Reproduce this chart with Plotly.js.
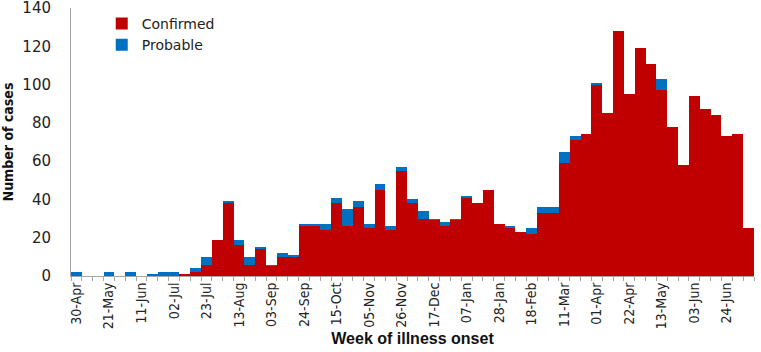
<!DOCTYPE html>
<html>
<head>
<meta charset="utf-8">
<script src="https://cdn.plot.ly/plotly-3.0.1.min.js"></script>
<style>
  html, body { margin: 0; padding: 0; background: #fff; }
  #chart { width: 761px; height: 352px; }
</style>
</head>
<body>
<div id="chart"></div>
<script>
const weeks = [
  "30-Apr","07-May","14-May","21-May","28-May","04-Jun","11-Jun","18-Jun","25-Jun",
  "02-Jul","09-Jul","16-Jul","23-Jul","30-Jul","06-Aug","13-Aug","20-Aug","27-Aug",
  "03-Sep","10-Sep","17-Sep","24-Sep","01-Oct","08-Oct","15-Oct","22-Oct","29-Oct",
  "05-Nov","12-Nov","19-Nov","26-Nov","03-Dec","10-Dec","17-Dec","24-Dec","31-Dec",
  "07-Jan","14-Jan","21-Jan","28-Jan","04-Feb","11-Feb","18-Feb","25-Feb","04-Mar",
  "11-Mar","18-Mar","25-Mar","01-Apr","08-Apr","15-Apr","22-Apr","29-Apr","06-May",
  "13-May","20-May","27-May","03-Jun","10-Jun","17-Jun","24-Jun","01-Jul","08-Jul"
];
const confirmed = [
  0,0,0,0,0,0,0,0,0,
  0,1,2,6,19,38,16,6,14,
  5,10,10,26,26,24,38,26,36,
  25,45,24,55,38,30,29,26,29,
  41,38,45,27,25,23,22,33,33,
  59,71,74,100,85,128,95,119,111,
  97,78,58,94,87,84,73,74,25
];
const probable = [
  2,0,0,2,0,2,0,1,2,
  2,0,2,4,0,1,3,4,1,
  1,2,1,1,1,3,3,9,3,
  2,3,2,2,2,4,1,2,1,
  1,0,0,0,1,0,3,3,3,
  6,2,0,1,0,0,0,0,0,
  6,0,0,0,0,0,0,0,0
];
const shownLabels = ["30-Apr","21-May","11-Jun","02-Jul","23-Jul","13-Aug","03-Sep","24-Sep",
  "15-Oct","05-Nov","26-Nov","17-Dec","07-Jan","28-Jan","18-Feb","11-Mar","01-Apr",
  "22-Apr","13-May","03-Jun","24-Jun"];
const yTicks = [0,20,40,60,80,100,120,140];

const RED = "#C00000", BLUE = "#0070C0";
const narrow = "'Liberation Sans Narrow', 'DejaVu Sans Condensed', 'Arial Narrow', sans-serif";

const traces = [
  {type:"bar", name:"Confirmed", x:weeks, y:confirmed,
   marker:{color:RED, line:{width:0}}},
  {type:"bar", name:"Probable", x:weeks, y:probable,
   marker:{color:BLUE, line:{width:0}}}
];

const layout = {
  width:761, height:352,
  margin:{l:71, r:7, t:8, b:76},
  barmode:"stack", bargap:0,
  paper_bgcolor:"#fff", plot_bgcolor:"#fff",
  showlegend:true,
  legend:{x:0.045, y:1.0, xanchor:"left", yanchor:"top", traceorder:"normal",
          bgcolor:"rgba(0,0,0,0)", font:{family:"'DejaVu Sans', sans-serif", size:14, color:"#222"},
          tracegroupgap:0},
  xaxis:{
    type:"category",
    automargin:false,
    tickmode:"array",
    tickvals:weeks,
    ticktext:weeks.map(w => shownLabels.includes(w) ? w : ""),
    tickson:"boundaries",
    ticks:"outside", ticklen:4, tickcolor:"#a6a6a6", tickwidth:1,
    tickangle:-90,
    tickfont:{family:narrow, size:14, color:"#222"},
    showline:true, linecolor:"#a6a6a6", linewidth:1,
    showgrid:false, zeroline:false,
    title:{text:"Week of illness onset", standoff:4,
           font:{family:"'Liberation Sans', Arial, sans-serif", size:16, color:"#111", weight:"bold"}}
  },
  yaxis:{
    automargin:false,
    ticklabeloverflow:"allow",
    range:[0,140], tickmode:"array", tickvals:yTicks,
    ticks:"", ticklabelstandoff:16,
    tickfont:{family:"'DejaVu Sans', sans-serif", size:15, color:"#222"},
    showline:true, linecolor:"#a6a6a6", linewidth:1,
    showgrid:false, zeroline:false,
    title:{text:"Number of cases", standoff:6,
           font:{family:narrow, size:14, color:"#111", weight:"bold"}}
  }
};

Plotly.newPlot("chart", traces, layout, {displayModeBar:false, staticPlot:true});
</script>
</body>
</html>
